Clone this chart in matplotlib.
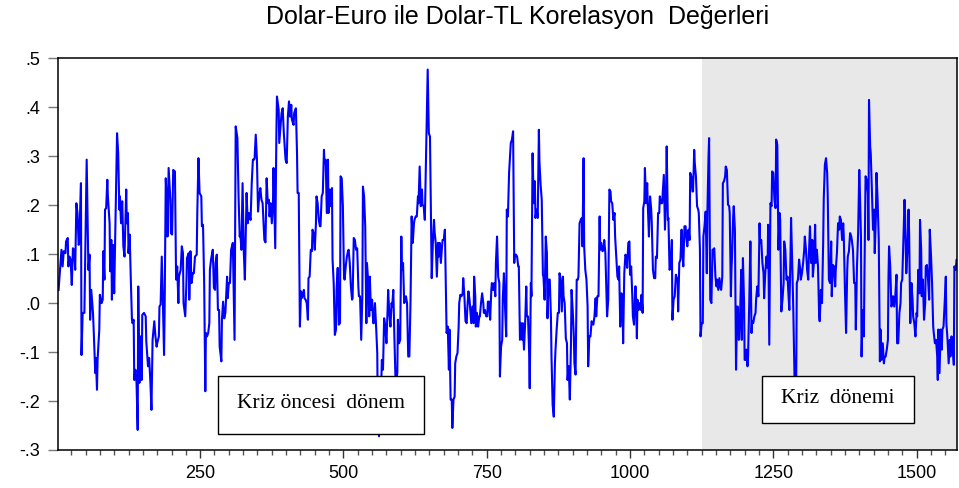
import matplotlib
matplotlib.use('Agg')
import matplotlib.pyplot as plt
from matplotlib.patches import Rectangle
from matplotlib.ticker import FixedLocator, MultipleLocator, FixedFormatter


# Metinler
baslik = 'Dolar-Euro ile Dolar-TL Korelasyon  Değerleri'
etiket_oncesi = 'Kriz öncesi  dönem'
etiket_kriz = 'Kriz  dönemi'

# Eksenler
kriz_baslangic = 1125
son_gozlem = 1571
x_ticks = [250, 500, 750, 1000, 1250, 1500]
y_ticks = [-0.3, -0.2, -0.1, 0.0, 0.1, 0.2, 0.3, 0.4, 0.5]
y_labels = ['-.3', '-.2', '-.1', '.0', '.1', '.2', '.3', '.4', '.5']

# Kriz öncesi dönem (gözlem no, korelasyon)
gun_oncesi = [
    3, 8, 10, 12, 15, 16, 19, 20, 22, 24, 26, 28, 30, 32, 34, 36, 38, 39, 42, 43,
    45, 48, 52, 55, 57, 58, 60, 63, 64, 67, 68, 70, 71, 74, 75, 78, 80, 81, 83, 84,
    86, 88, 89, 92, 93, 95, 96, 98, 100, 103, 105, 107, 109, 110, 112, 114, 116, 118, 121, 122,
    124, 125, 127, 129, 131, 132, 134, 135, 137, 139, 141, 142, 144, 146, 148, 149, 152, 155, 156, 159,
    161, 163, 165, 167, 170, 172, 174, 175, 178, 179, 181, 183, 185, 187, 188, 190, 192, 193, 195,
    198, 199, 201, 203, 206, 208, 210, 212, 213, 216, 218, 220, 221, 224, 226, 227, 230, 231, 233, 235,
    237, 239, 241, 244, 245, 247, 249, 252, 253, 255, 257, 259, 260, 262, 264, 266, 267, 269, 272, 274,
    276, 277, 279, 281, 283, 284, 287, 288, 290, 292, 294, 297, 298, 300, 302, 304, 307, 310, 312, 315,
    317, 319, 320, 322, 324, 326, 328, 330, 331, 333, 335, 338, 340, 342, 344, 345, 347, 349, 351, 353,
    355, 357, 359, 362, 364, 366, 368, 370, 371, 373, 375, 377, 378, 381, 383, 384, 387, 388,
    392, 394, 396, 399, 401, 403, 405, 407, 409, 410, 413, 414, 417, 419, 420, 422, 424, 426, 427, 429,
    431, 432, 434, 436, 438, 439, 441, 443, 445, 446, 448, 450, 452, 453, 455, 457, 459, 460, 462, 464,
    466, 467, 469, 471, 473, 474, 476, 478, 480, 481, 483, 485, 487, 488, 490, 492, 494, 495, 497, 499,
    501, 502, 504, 506, 508, 509, 511, 513, 515, 516, 518, 520, 522, 524, 526, 527, 529, 531, 533, 534,
    536, 538, 540, 541, 543, 545, 546, 548, 550, 552, 553, 555, 557, 559, 560, 562, 564, 566, 567, 569,
    571, 573, 575, 577, 578, 580, 582, 584, 585, 587, 589, 591,
    594, 595, 597, 599, 601, 602, 604, 606, 608, 609, 611, 613, 615, 617, 619, 621, 623, 624, 626, 628,
    630, 631, 633, 635, 637, 638, 640, 642, 644, 645, 647, 649, 651, 652, 654, 656, 658, 659, 661, 663,
    665, 666, 668, 670, 672, 673, 675, 677, 678, 680, 682, 684, 685, 687, 689, 690, 692, 694, 695, 697,
    699, 701, 702, 704, 706, 708, 709, 711, 713, 715, 716, 718, 720, 722, 723, 725, 727, 728, 730, 731,
    733, 735, 737, 738, 740, 742, 744, 745, 747, 749, 751, 752, 754, 756, 758, 759, 761, 763, 765, 766,
    768, 770, 772, 773, 775, 777, 778, 780, 782, 784, 785, 787, 789, 791, 792, 794, 796,
    798, 799, 801, 803, 805, 806, 808, 810, 812, 813, 815, 817, 819, 820, 822, 824, 825, 827, 828, 830,
    832, 834, 835, 837, 839, 841, 842, 844, 846, 848, 849, 851, 853, 855, 856, 858, 860, 862, 863, 865,
    867, 869, 870, 872, 874, 876, 877, 879, 881, 883, 884, 886, 888, 890, 891, 893, 895, 897, 898, 900,
    902, 903, 905, 907, 909, 910, 912, 914, 916, 917, 919, 920, 922, 924, 926, 927, 929, 931, 933, 934,
    936, 938, 940, 941, 943, 945, 947, 948, 950, 952, 954, 955, 957, 959, 960, 962, 964, 966, 967, 969,
    971, 973, 974, 976, 978, 980, 981, 983, 985, 987, 988, 990, 992, 994, 995, 997, 999,
    1000, 1002, 1004, 1005, 1007, 1009, 1010, 1012, 1013, 1015, 1017, 1019, 1020, 1022, 1023, 1025, 1026, 1028, 1030, 1031,
    1033, 1035, 1037, 1038, 1040, 1042, 1044, 1045, 1047, 1049, 1051, 1052, 1054, 1056, 1058, 1059, 1061, 1063, 1064, 1066,
    1067, 1069, 1071, 1073, 1074, 1076, 1078, 1080, 1081, 1083, 1084, 1086, 1088, 1090, 1091, 1093, 1095, 1097, 1098, 1100,
    1102, 1104, 1105, 1107, 1109, 1110, 1112, 1113, 1115, 1117, 1119, 1120, 1122, 1123,
]
kor_oncesi = [
    .027, .109, .075, .106, .102, .126, .133, .075, .095, .089, .037, .112, .109, .068, .204, .184, .119, .123, .245, -.106,
    -.020, -.020, .293, .068, .099, -.034, .027, -.020, -.048, -.143, -.112, -.177, -.116, -.054, .017, .000, .007, .106, .048, .191,
    .194, .252, .218, .163, .065, .129, .007, .119, .020, .218, .347, .306, .191, .218, .163, .208, .116, .095, .232, .163,
    .184, .102, .140, .048, -.034, -.041, -.034, -.157, -.136, -.163, -.259, .034, -.163, -.068, -.157, -.024, -.020, -.027, -.078, -.129,
    -.112, -.157, -.218, -.075, -.037, -.068, -.089, -.082, -.068, -.007, -.003, .095, .000, -.106, -.014, .255, .198, .136, .276,
    .211, .143, .140, .272, .269, .048, .075, .000, .054, .068, .116, .102, .000, -.027, .041, .092, .102, .007, .106, .041,
    .061, .061, .095, .099, .184, .296, .225, .218, .157, .160, .041, -.180, -.061, -.068, -.061, -.041, .068, .089, .109, .031,
    .027, .082, .099, -.014, -.014, -.089, -.119, -.034, .003, -.031, -.020, .054, .010, .041, .041, .109, .123, -.075, .361, .337,
    .218, .136, .143, .109, .245, .109, .048, .163, .225, .163, .184, .170, .245, .293, .293, .296, .344, .296, .187, .218,
    .235, .211, .204, .129, .124, .255, .204, .211, .177, .204, .163, .204, .276, .112, .347, .422, .395, .327,
    .388, .398, .347, .293, .286, .381, .412, .381, .405, .375, .364, .388, .398, .306, .225, .225, -.048, .024, .010, .017,
    .027, .010, .007, .000, -.034, .051, .054, .109, .106, .150, .143, .109, .163, .218, .204, .170, .157, .157, .218, .225,
    .313, .286, .293, .184, .293, .184, .232, .198, .235, .089, .041, -.065, -.054, .027, .072, -.044, -.041, .259, .255, .198,
    .054, .048, .075, .095, .106, .109, .082, .034, .007, .010, .133, .129, .109, .112, .034, .014, .014, -.075, .014, .238,
    .218, .157, -.041, .082, .048, -.027, .054, -.014, .007, -.041, -.041, .000, -.048, -.102, -.232, -.272, -.232, -.163, -.116, -.136,
    -.031, -.048, -.082, -.014, .027, -.020, -.048, .000, -.007, .027, -.075, -.163,
    -.143, -.034, -.082, -.075, .136, .068, .082, .000, .007, .014, .000, -.109, -.109, .000, .177, .123, .163, .170, .177, .177,
    .218, .204, .279, .198, .232, .201, .198, .170, .300, .354, .477, .347, .340, .245, .051, .123, .170, .146, .123, .054,
    .123, .095, .123, .082, .116, .129, .129, .150, .082, -.061, -.048, -.136, -.054, -.197, -.197, -.255, -.197, -.191, -.123, -.109,
    -.102, -.048, .000, .017, .014, .020, .051, .014, -.037, -.041, -.014, .024, .007, -.027, -.041, -.007, -.041, .054, .014, -.048,
    -.020, -.048, -.027, -.027, .000, .020, .000, -.020, -.014, -.027, -.027, .003, .003, -.034, .027, .041, .027, .041, .014, .082,
    .136, .054, .041, -.150, -.089, -.075, .007, .061, -.010, -.068, .191, .177, .266, .306, .327, .334, .351,
    .082, .099, .099, .095, .075, .075, -.075, -.041, -.075, -.041, -.095, -.041, .034, -.027, -.027, -.102, -.174, .041, .014, .306,
    .204, .249, .174, .191, .174, .354, .289, .242, .211, .058, .054, .007, .136, .102, -.031, .048, .048, -.027, -.109, -.208,
    -.232, -.123, -.095, -.054, -.020, -.020, .061, .048, -.017, .054, .014, .000, -.072, -.082, -.157, -.129, -.197, -.082, .027, -.014,
    -.068, -.123, -.146, .048, .048, .054, .163, .170, .174, .116, .296, .116, .068, .048, -.007, -.129, -.068, -.068, -.037, -.041,
    -.044, -.027, .010, -.027, .014, .014, .177, .109, .123, .106, .109, .129, .102, .014, -.027, .007, .232, .228, .208, .204,
    .170, .184, .136, .095, .054, .048, .075, -.048, .020, -.007, -.082, .061, .099, .092, .072, .123, .126,
    .058, .075, .014, -.027, -.044, .034, .034, -.072, .007, -.014, .000, -.014, .017, -.020, .194, .208, .276, .204, .245, .201,
    .136, .218, .191, .163, .068, .051, .051, .095, .092, .184, .184, .218, .204, .204, .245, .262, .150, .232, .320, .170,
    .174, .068, .075, .129, -.034, .007, .014, .058, .054, .048, -.017, .082, .089, .150, .109, .075, .157, .157, .136, .116,
    .150, .129, .266, .259, .228, .228, .313, .286, .259, .198, .191, .184, .109, -.068,
]

# Kriz dönemi (gözlem no, korelasyon)
gun_kriz = [
    1125, 1127, 1128, 1130, 1132, 1134, 1135, 1137, 1138, 1140, 1142, 1144, 1145, 1147, 1149, 1151, 1152, 1154, 1156, 1158,
    1159, 1161, 1162, 1164, 1166, 1167, 1169, 1171, 1173, 1174, 1176, 1177, 1178, 1180, 1181, 1183, 1185, 1187, 1188, 1190, 1192,
    1194, 1195, 1197, 1199, 1200, 1202, 1203, 1205, 1206, 1208, 1210, 1212, 1213, 1215, 1217, 1219, 1220, 1222, 1224, 1226,
    1227, 1229, 1231, 1233, 1234, 1236, 1238, 1240, 1241, 1243, 1245, 1247, 1248, 1250, 1252, 1254, 1255, 1257, 1259, 1261,
    1262, 1264, 1266, 1268, 1269, 1271, 1273, 1275, 1276, 1278, 1280, 1281, 1283, 1285, 1287, 1288, 1290, 1291, 1293, 1295,
    1297, 1298, 1300, 1302, 1304, 1305, 1307, 1309, 1311, 1312, 1314, 1316, 1318, 1319, 1321, 1323, 1324, 1326, 1328, 1330,
    1331, 1333, 1335, 1337, 1338, 1340, 1342, 1344, 1345, 1347, 1349, 1351, 1352, 1354, 1356, 1358, 1359, 1361, 1363, 1365,
    1366, 1368, 1370, 1372, 1373, 1375, 1377, 1379, 1380, 1382, 1384, 1386, 1387, 1389, 1391, 1393, 1394, 1396, 1398, 1400,
    1401, 1403, 1404, 1406, 1408, 1409, 1411, 1413, 1415, 1416, 1417, 1419, 1420, 1422, 1424, 1426, 1427, 1429, 1430, 1432,
    1434, 1436, 1437, 1439, 1441, 1443, 1444, 1446, 1448, 1450, 1451, 1452, 1454, 1456, 1458, 1459, 1461, 1463, 1465, 1466,
    1468, 1470, 1472, 1473, 1475, 1477, 1479, 1480, 1482, 1484, 1486, 1487, 1489, 1491, 1493, 1494, 1496, 1498, 1500, 1501,
    1503, 1505, 1506, 1508, 1509, 1511, 1513, 1515, 1516, 1518, 1520, 1522, 1523, 1525, 1527, 1529, 1530, 1532, 1534, 1536,
    1537, 1538, 1540, 1542, 1544, 1545, 1547, 1549, 1551, 1552, 1554, 1556, 1558, 1559, 1561, 1563, 1565, 1566, 1568, 1570, 1571,
]
kor_kriz = [
    -.041, -.041, .136, .157, .187, .061, .184, .300, .337, .007, .000, .109, .109, .112, .054, .034, .048, .027, .051, .031,
    .027, .054, .245, .249, .259, .279, .272, .201, .198, .184, .014, .068, .095, .177, .198, .150, -.136, -.007, -.007, -.075, -.027,
    .068, -.075, .092, .000, -.116, -.116, -.095, -.129, -.109, .000, .126, -.061, -.037, -.041, -.027, -.020, .007, .034, .014, .163,
    .123, .129, .082, .061, .010, .061, .095, .072, .160, -.085, .204, .198, .269, .266, .211, .194, .334, .323, .109, .184,
    .170, -.017, .007, .041, .126, .109, .048, .054, .027, -.014, .095, .174, .082, -.020, -.150, -.232, -.150, .041, .048, .089,
    .068, .048, .061, .082, .109, .136, .109, .068, .048, .095, .157, .082, .129, .054, .085, .160, .082, .109, .075, -.027,
    -.037, .027, .000, .123, .211, .283, .296, .266, .218, .048, .041, .126, .014, .078, .075, .034, .068, .102, .163, .150,
    .177, .170, .129, .163, .136, .027, -.061, .068, .095, .106, .143, .136, .129, .109, .041, .041, -.054, .075, .143, .272,
    .232, .133, -.109, -.014, -.068, .054, .259, .252, .225, .129, .415, .320, .306, .232, .150, .191, .102, .177, .266, .211,
    .129, -.119, -.054, -.116, -.082, -.123, -.112, -.109, -.095, -.075, .054, .116, .075, -.007, .000, .014, -.007, .017, .058, -.082,
    -.082, -.020, .000, .041, .048, .129, .211, .177, .061, .109, .191, .143, -.041, .041, .007, -.027, -.041, -.068, -.020, -.027,
    .068, .020, .170, .109, .014, .048, -.034, .000, .075, .078, .048, .007, .150, .102, .041, -.048, -.061, -.082, -.075, -.109,
    -.157, -.054, -.143, -.054, -.095, -.054, -.048, .000, .054, -.041, -.075, -.123, -.075, -.109, -.068, -.089, -.126, .075, .068, .089, .082,
]

gun = gun_oncesi + gun_kriz
kor = kor_oncesi + kor_kriz

fig = plt.figure(figsize=(9.59, 4.88), dpi=100)
ax = fig.add_axes([0.0608, 0.0779, 0.9374, 0.8026])

# Kriz dönemi gölgesi
ax.axvspan(kriz_baslangic, son_gozlem, color='#e8e8e8', lw=0, zorder=0)
ax.plot(gun, kor, color='#0000ff', lw=1.5, zorder=2)

ax.set_xlim(2.5, son_gozlem)
ax.set_ylim(-0.3, 0.5)

ax.xaxis.set_major_locator(FixedLocator(x_ticks))
ax.xaxis.set_minor_locator(MultipleLocator(25))
ax.yaxis.set_major_locator(FixedLocator(y_ticks))
ax.yaxis.set_major_formatter(FixedFormatter(y_labels))

ax.tick_params(axis='x', which='major', length=6, width=1, pad=4.5,
               labelsize=13, color='#333333')
ax.tick_params(axis='x', which='minor', length=3.5, width=1, color='#555555')
ax.tick_params(axis='y', which='major', length=7, width=1, pad=6,
               labelsize=13, color='#777777')
for lab in ax.get_xticklabels() + ax.get_yticklabels():
    lab.set_family('Liberation Sans')

for s in ax.spines.values():
    s.set_linewidth(1.1)
    s.set_color('black')

# Etiket kutuları
kutu1 = Rectangle((0.1776, 0.041), 0.2292, 0.148, transform=ax.transAxes,
                  facecolor='white', edgecolor='black', lw=1, zorder=5)
ax.add_patch(kutu1)
ax.text(0.2922, 0.118, etiket_oncesi, transform=ax.transAxes, ha='center',
        va='center', fontsize=15.5, family='Liberation Serif', zorder=6)

kutu2 = Rectangle((0.7824, 0.068), 0.1694, 0.121, transform=ax.transAxes,
                  facecolor='white', edgecolor='black', lw=1, zorder=5)
ax.add_patch(kutu2)
ax.text(0.8671, 0.131, etiket_kriz, transform=ax.transAxes, ha='center',
        va='center', fontsize=15.5, family='Liberation Serif', zorder=6)

fig.text(0.540, 0.966, baslik, ha='center', va='center', fontsize=18,
         family='Liberation Sans')

plt.savefig('out.png', dpi=100)
